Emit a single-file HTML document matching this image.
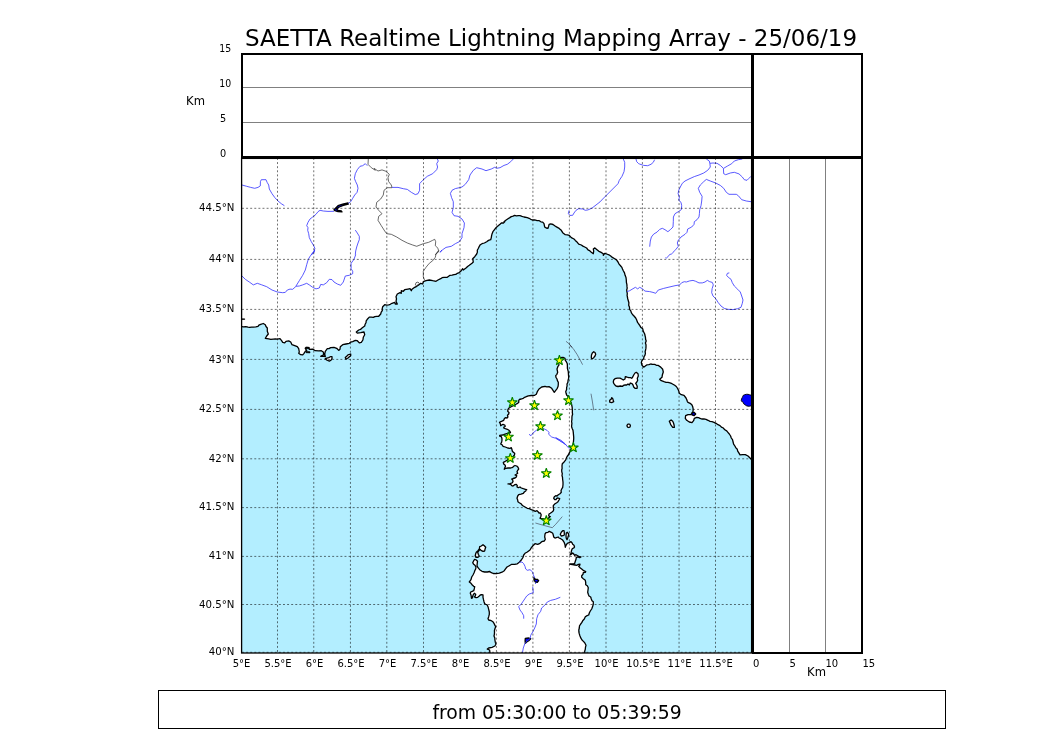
<!DOCTYPE html>
<html lang="en"><head><meta charset="utf-8"><title>SAETTA Realtime Lightning Mapping Array</title>
<style>html,body{margin:0;padding:0;background:#fff;width:1050px;height:750px;overflow:hidden}svg{display:block;position:absolute;left:0;top:0}text{font-family:'DejaVu Sans','Liberation Sans',sans-serif;fill:#000}.t{font-size:10px}.u{font-size:10.2px}.k{font-size:11.6px}</style></head><body>
<svg width="1050" height="750" viewBox="0 0 1050 750">
<rect x="0" y="0" width="1050" height="750" fill="#fff"/>
<clipPath id="mc"><rect x="241.5" y="157.5" width="510.5" height="495.5"/></clipPath>
<g clip-path="url(#mc)">
<rect x="241" y="157" width="511" height="496" fill="#b3eeff"/>
<polygon points="234.7,326.7 242.0,326.7 243.3,326.9 245.8,326.6 248.0,327.1 249.7,327.3 251.5,327.1 253.3,327.1 255.8,326.9 258.0,326.4 258.9,325.1 260.7,324.3 263.3,323.5 265.3,324.7 266.0,326.5 267.3,328.0 267.3,331.3 268.3,334.0 266.7,336.0 265.3,338.3 268.7,338.9 270.8,339.3 273.3,339.1 275.4,339.0 277.3,339.1 280.0,338.7 281.6,340.7 282.7,342.4 284.7,342.9 286.0,341.3 288.7,340.9 290.7,342.0 292.0,344.7 294.7,345.7 297.3,346.7 298.7,348.7 299.3,352.0 298.7,353.3 300.7,354.7 302.7,354.9 304.0,353.3 305.3,351.3 306.7,350.4 305.3,348.7 306.7,347.3 308.7,347.7 309.3,349.3 312.7,349.1 315.3,350.7 318.7,350.9 321.3,350.7 323.3,352.0 323.7,354.7 322.0,355.6 320.7,356.3 323.2,356.2 325.3,356.7 324.7,354.0 325.3,351.3 327.3,348.7 328.9,348.6 330.7,347.6 334.0,347.3 336.7,348.3 338.7,350.4 340.0,349.3 340.3,346.7 342.7,344.7 346.0,344.0 349.3,343.3 350.8,342.0 352.7,341.6 355.3,340.4 357.3,340.7 359.3,342.9 361.3,342.4 362.9,340.0 363.3,337.3 364.7,334.7 364.0,332.0 360.7,332.7 357.3,333.1 356.3,332.0 358.7,330.0 360.5,329.4 362.0,328.0 364.7,326.0 365.1,324.3 366.0,322.7 366.2,320.9 367.3,319.3 369.3,317.1 371.3,317.1 373.3,317.3 374.8,316.6 376.7,316.3 378.7,316.3 380.7,314.0 381.2,312.2 382.3,310.7 382.2,308.8 382.7,306.7 384.7,304.7 386.7,305.1 388.7,304.9 390.3,304.3 392.0,303.3 394.7,302.3 395.3,304.0 397.3,304.0 396.0,301.3 396.5,298.9 396.0,296.7 397.3,294.0 400.0,292.7 401.3,293.3 401.3,290.7 403.3,291.3 404.7,289.7 408.0,289.1 410.0,288.7 411.3,290.7 412.0,289.3 414.7,287.3 416.7,286.3 418.7,284.9 420.7,283.3 422.7,284.0 423.3,281.7 426.0,280.7 429.3,280.0 432.7,280.7 436.0,281.3 438.0,280.0 440.7,278.7 442.1,277.7 444.0,277.3 447.3,277.3 450.0,275.3 452.1,275.2 454.0,274.7 455.8,274.4 457.3,273.3 459.2,272.6 460.7,271.3 462.7,268.7 463.3,270.0 466.0,268.0 467.6,266.5 469.3,265.3 472.0,263.3 473.3,262.0 472.7,258.7 474.7,256.7 476.7,254.0 477.4,252.1 477.3,250.3 478.4,248.3 479.3,246.3 480.3,244.7 482.0,243.7 484.4,243.0 486.7,241.7 488.5,240.4 490.7,239.7 491.3,237.6 491.6,235.7 492.1,233.7 492.9,231.7 494.5,229.6 496.0,227.7 497.3,226.6 498.5,225.6 500.0,224.3 501.4,223.0 503.4,223.0 504.7,221.7 504.0,221.7 505.8,220.2 508.0,218.7 509.8,217.6 511.3,216.6 513.1,216.2 514.7,215.4 516.3,215.8 518.4,215.6 520.0,215.7 522.0,216.4 524.0,217.0 527.3,217.7 529.1,218.3 530.7,219.3 532.4,220.0 534.7,219.9 537.1,220.6 539.3,220.7 540.9,221.8 542.7,222.1 544.0,223.7 544.7,227.0 546.2,228.0 548.0,228.3 548.6,226.4 549.1,224.3 550.7,223.9 553.0,224.5 554.7,225.7 556.5,226.9 558.7,228.1 560.0,229.2 561.3,230.3 562.7,232.7 565.3,234.7 567.3,234.8 569.3,235.3 571.3,237.7 574.0,239.0 575.3,240.4 576.7,241.7 578.7,244.1 581.3,245.0 582.9,246.1 584.7,247.0 586.6,248.0 588.0,249.9 589.9,250.9 591.3,252.3 593.3,253.7 593.7,251.2 593.3,249.0 594.9,247.9 597.3,249.9 598.9,251.3 600.7,252.1 603.3,253.7 603.3,255.3 604.7,253.3 606.7,254.0 608.9,254.8 610.7,256.0 612.4,257.4 614.7,258.7 616.5,259.9 618.0,262.0 619.1,264.1 620.7,266.0 621.9,267.4 622.5,268.9 623.3,270.7 624.5,272.9 625.1,275.3 626.0,277.5 626.3,280.0 626.4,282.3 626.9,284.7 627.0,286.4 627.2,288.2 626.7,290.0 626.9,291.6 627.3,293.7 627.1,295.3 627.4,297.0 627.8,299.0 628.3,300.7 628.9,302.8 628.7,305.3 629.5,307.3 629.6,309.3 630.8,310.9 631.3,312.7 632.5,314.5 634.0,316.0 635.7,318.0 636.7,320.0 637.4,322.1 638.7,324.0 639.9,325.6 640.7,327.3 642.7,328.7 643.3,331.3 644.7,334.0 645.1,335.8 645.5,337.6 645.6,339.3 646.2,341.0 645.4,343.1 646.0,344.7 646.0,346.6 645.9,348.4 645.6,350.0 645.1,351.7 645.4,353.4 644.9,355.3 644.0,356.7 643.7,358.7 642.0,360.4 641.3,362.7 642.0,365.3 643.7,367.1 645.3,366.0 646.7,364.9 648.9,364.7 650.7,364.0 652.5,364.3 654.7,364.4 656.4,365.3 658.0,365.3 660.7,367.1 662.7,369.3 663.3,372.0 662.4,374.7 662.0,377.3 659.7,379.3 661.3,380.7 664.0,381.7 666.0,382.3 668.0,382.4 670.0,382.9 672.0,383.7 674.7,385.3 676.3,386.5 677.3,388.0 678.7,390.7 679.3,393.3 681.3,394.7 684.0,395.3 686.0,398.0 686.7,399.5 687.3,401.3 688.0,402.4 690.7,403.7 692.0,405.0 692.7,406.7 693.1,408.6 693.1,410.7 692.7,412.7 690.7,414.7 688.0,414.7 685.6,415.7 685.3,418.4 686.7,420.3 689.3,422.0 692.0,422.7 693.6,420.7 694.3,418.4 696.7,417.3 698.5,417.7 700.0,418.3 701.7,419.0 704.0,418.9 706.0,419.3 708.0,420.3 710.0,421.4 712.0,421.6 714.0,422.3 716.0,423.3 718.0,424.7 720.0,425.6 721.4,427.1 723.3,428.0 724.8,429.8 726.7,430.9 728.1,432.6 729.3,434.0 730.6,436.0 731.3,438.0 732.5,439.7 733.1,442.0 733.6,444.1 734.9,446.0 735.9,447.9 737.3,449.3 737.7,451.1 738.7,452.7 740.0,454.9 742.7,454.7 745.3,454.7 748.0,456.0 750.0,458.0 751.3,459.3 758.7,462.7 760.0,150.0 230.0,150.0" fill="#fff" stroke="#000" stroke-width="1.3" stroke-linejoin="round"/>
<polygon points="559.7,357.7 563.0,357.3 565.0,358.3 565.3,360.3 566.3,361.7 567.3,363.7 567.4,366.3 567.4,368.3 567.8,369.8 568.3,371.7 568.4,373.5 568.5,375.1 568.7,377.0 568.5,378.7 568.0,380.7 567.9,382.3 567.0,384.0 567.1,385.8 566.6,387.7 566.6,389.6 565.7,391.7 566.1,393.3 566.6,395.0 567.9,396.4 568.7,397.7 569.5,399.4 570.3,401.0 571.2,402.7 571.7,405.0 572.1,406.8 572.3,409.0 572.4,411.0 572.3,412.4 572.6,414.3 572.0,416.2 571.9,418.0 571.9,419.7 571.6,421.5 571.9,423.4 571.7,425.0 571.6,426.8 572.3,428.7 573.0,430.3 573.3,432.6 573.5,434.9 573.7,437.0 573.7,439.0 573.5,441.1 573.3,443.0 572.9,445.5 572.3,447.7 571.0,449.1 570.3,451.0 569.2,453.1 568.3,455.0 567.1,456.5 566.3,458.3 565.6,460.1 564.3,461.7 562.3,463.7 562.0,465.9 562.1,468.3 561.7,470.0 561.8,471.8 562.3,473.7 562.0,475.5 562.5,477.2 562.6,479.0 563.0,482.0 563.0,484.7 562.7,487.3 561.7,489.0 561.0,490.7 561.3,492.3 560.0,493.7 558.3,494.7 557.0,496.0 555.7,495.7 554.3,496.7 553.7,498.3 554.7,499.7 556.0,499.7 556.7,498.3 558.0,498.0 559.7,498.7 559.0,500.0 558.0,501.7 556.7,502.7 554.7,504.0 553.3,505.7 553.3,507.7 553.7,509.7 553.0,511.3 551.7,512.3 550.3,513.3 549.0,514.0 548.7,516.0 550.3,516.5 548.3,518.3 546.3,519.7 543.3,519.0 540.0,518.3 540.8,516.7 541.2,514.7 540.3,513.0 539.0,513.0 538.0,511.7 537.0,510.7 535.3,511.3 533.3,510.3 531.3,509.7 529.3,508.7 527.3,508.3 525.0,507.0 523.3,506.0 522.0,505.0 521.0,503.7 519.3,502.7 517.9,501.7 517.7,500.0 517.0,498.3 517.7,496.0 518.7,494.7 521.0,494.1 523.3,493.3 524.3,492.0 525.7,491.0 526.3,489.7 526.7,489.7 525.3,489.3 523.3,488.7 521.3,488.0 520.0,487.0 518.3,487.7 517.0,487.0 517.3,485.7 516.3,484.3 514.7,484.7 513.0,486.0 511.7,485.7 510.7,484.3 508.0,483.9 510.0,483.7 512.0,483.0 513.0,481.7 512.7,480.0 511.7,479.0 513.0,478.5 515.0,478.0 516.3,477.0 516.7,475.7 515.0,475.0 516.3,474.3 517.7,473.3 517.0,471.7 517.7,470.3 518.7,469.0 518.0,467.3 516.7,466.0 515.0,465.5 514.0,466.0 512.7,467.3 510.7,468.0 508.0,468.0 505.7,468.3 504.3,469.3 504.8,467.7 505.5,466.3 505.0,465.0 503.7,464.0 503.3,462.3 505.3,461.3 507.0,460.4 508.3,459.2 510.3,458.3 511.7,457.5 513.3,456.3 514.5,455.0 514.7,453.3 513.3,452.3 512.3,451.0 511.9,449.3 511.3,447.7 510.0,448.3 507.7,448.0 505.3,447.0 503.0,446.3 502.3,445.0 500.7,444.0 501.7,442.0 502.0,440.0 502.0,440.3 501.9,438.3 501.3,436.7 499.7,436.2 499.7,435.3 502.7,435.0 504.3,434.3 506.7,433.7 509.3,433.0 510.5,432.7 510.0,431.5 509.0,430.3 507.3,429.3 505.3,428.7 503.7,428.0 504.0,427.0 505.3,426.2 504.7,425.0 503.0,424.3 501.7,425.0 500.7,425.7 500.3,423.7 499.5,422.5 500.3,421.8 502.0,421.1 503.7,420.3 504.3,418.7 505.3,417.7 507.0,418.0 507.9,417.0 507.5,415.3 508.7,414.0 509.0,412.5 507.7,411.3 508.0,409.3 509.0,408.0 510.7,407.0 512.7,406.0 514.7,405.2 516.3,404.0 517.7,403.3 518.8,402.3 518.7,400.7 519.3,399.5 521.3,399.0 523.3,398.3 524.7,397.3 526.3,396.7 528.3,395.8 531.3,395.5 534.7,395.3 536.3,394.3 537.3,391.7 539.0,389.0 541.7,387.0 545.0,386.3 546.8,386.9 549.0,386.6 551.7,388.3 553.0,390.3 554.3,392.3 556.3,389.7 557.3,388.3 558.1,386.3 558.3,384.4 558.3,382.3 557.4,380.6 557.0,379.0 556.0,377.5 555.7,375.7 556.9,374.3 557.7,372.3 557.0,369.0 557.8,366.7 559.0,365.0 558.6,362.9 558.3,361.0 558.5,359.2" fill="#fff" stroke="#000" stroke-width="1.3" stroke-linejoin="round"/>
<polygon points="488.7,620.0 488.0,618.7 488.7,616.7 489.3,614.3 489.3,612.0 488.7,609.3 488.0,606.7 487.0,604.7 485.7,604.3 484.7,603.7 484.0,601.7 483.5,599.7 483.0,597.3 483.0,595.0 481.7,594.7 480.3,595.0 479.0,596.3 477.7,597.3 476.0,597.7 474.3,597.0 475.3,596.0 475.7,594.3 474.3,593.3 473.3,594.7 472.7,596.3 472.3,598.0 471.5,598.3 471.3,596.7 471.0,595.0 470.3,593.3 470.7,592.0 472.3,591.3 473.7,590.7 474.3,588.7 474.7,586.7 473.7,586.3 472.3,585.0 471.0,583.3 469.3,582.0 471.0,579.7 471.7,577.0 473.0,575.0 474.3,572.3 474.8,570.6 475.7,569.0 476.0,567.0 475.0,565.3 473.7,564.3 472.7,562.7 473.7,560.7 474.7,559.3 476.3,560.0 477.5,561.3 477.2,563.7 477.0,565.7 478.0,567.7 479.7,569.7 482.0,571.3 484.7,572.0 487.3,572.0 489.7,571.5 491.3,572.7 493.3,573.5 496.3,573.7 499.3,573.1 502.0,572.2 504.3,570.7 505.7,568.7 507.0,567.0 509.3,565.7 511.7,564.3 514.7,564.3 517.3,563.8 519.3,562.3 521.3,560.0 523.0,557.3 523.7,555.0 525.0,553.3 527.3,552.0 530.0,550.0 531.2,547.9 532.7,546.0 535.0,543.7 537.7,544.3 540.0,543.3 541.7,541.7 544.3,541.0 545.3,539.3 544.7,537.0 545.0,534.0 546.0,532.7 548.0,532.3 549.3,531.3 551.3,532.3 552.7,533.3 553.3,535.0 553.7,537.0 555.0,538.0 556.3,537.7 558.3,537.0 559.0,538.0 560.7,538.7 562.3,539.7 563.3,541.0 564.3,542.7 565.0,544.7 565.3,547.3 566.0,545.3 567.3,543.3 569.0,542.7 571.0,541.7 572.0,542.7 572.7,544.3 574.0,545.3 574.5,547.0 573.7,548.0 572.3,548.7 571.7,550.0 571.3,551.7 571.0,553.3 570.0,555.0 571.3,554.3 572.7,553.0 573.7,554.0 574.7,555.3 576.0,554.7 577.7,555.7 579.3,556.7 581.0,557.0 579.7,557.7 577.7,557.0 576.3,557.3 576.0,559.3 575.3,561.3 574.7,563.3 573.0,564.0 569.7,564.0 572.3,564.7 575.0,565.0 577.0,565.3 578.3,564.3 580.0,564.1 579.7,565.3 578.7,566.3 580.3,568.0 582.0,569.3 583.7,570.7 585.7,571.7 585.3,572.3 583.3,572.7 583.0,574.3 581.7,575.7 581.7,577.3 583.3,578.7 585.3,580.3 585.7,582.3 585.7,584.7 587.3,585.7 588.3,587.7 588.0,590.0 587.7,592.3 588.3,594.3 589.0,596.0 590.7,597.0 591.3,599.0 592.0,600.7 593.3,601.7 593.3,604.0 592.7,606.3 591.7,609.0 590.3,611.0 589.3,613.0 588.7,615.0 587.1,615.6 585.3,616.7 584.3,619.0 582.7,620.7 581.9,622.4 580.7,624.0 579.5,625.8 579.3,628.0 578.8,630.0 578.9,632.0 579.3,633.9 580.0,636.0 580.9,638.2 582.0,640.0 583.4,641.4 584.7,642.7 586.0,645.3 585.5,647.1 585.3,649.3 584.7,651.2 584.7,653.1 584.7,660.0 490.0,660.0 490.0,653.1 489.6,650.0 487.3,649.1 488.7,648.0 492.0,647.3 494.9,646.0 496.0,644.0 495.3,642.2 494.9,640.0 494.8,637.9 494.0,636.0 494.4,634.1 494.5,632.3 494.4,630.7 495.0,628.5 495.7,626.7 494.7,624.9 494.0,623.3 493.0,621.8 491.3,620.7" fill="#fff" stroke="#000" stroke-width="1.3" stroke-linejoin="round"/>
<polygon points="613.3,382.0 613.7,380.0 615.0,378.7 617.3,378.1 620.0,378.1 621.7,379.0 623.3,380.0 625.0,379.0 625.3,376.7 626.7,377.0 628.7,377.7 630.7,377.7 631.7,378.3 632.7,377.0 633.7,375.0 635.0,373.0 636.3,372.3 638.0,373.7 638.3,376.0 637.3,378.3 637.7,380.3 636.7,382.3 635.7,383.3 636.7,385.0 637.3,386.7 637.0,388.3 635.0,388.3 633.7,387.0 633.0,385.0 632.0,383.7 630.3,383.0 629.3,385.0 628.0,384.0 626.7,385.0 625.0,385.0 623.3,385.3 622.7,386.3 620.3,386.0 618.0,386.5 616.0,386.0 614.7,384.7 613.7,383.3" fill="#fff" stroke="#000" stroke-width="1.3" stroke-linejoin="round"/>
<polygon points="591.3,357.3 591.5,355.0 592.3,353.0 593.7,351.7 595.0,352.5 595.7,354.3 595.0,356.0 593.7,357.7 592.3,358.7 591.5,358.3" fill="#fff" stroke="#000" stroke-width="1.3" stroke-linejoin="round"/>
<polygon points="609.7,400.3 611.0,399.4 611.7,397.7 612.7,398.6 613.7,401.7 611.7,402.6 609.7,402.1" fill="#fff" stroke="#000" stroke-width="1.3" stroke-linejoin="round"/>
<polygon points="669.3,421.3 671.1,420.0 672.7,421.3 673.4,422.8 674.0,424.7 674.4,427.3 672.7,427.3 670.7,424.7 670.2,423.1" fill="#fff" stroke="#000" stroke-width="1.3" stroke-linejoin="round"/>
<polygon points="626.9,425.7 627.5,424.4 628.7,424.0 629.9,424.4 630.4,425.7 629.9,427.1 628.7,427.5 627.5,427.1" fill="#fff" stroke="#000" stroke-width="1.3" stroke-linejoin="round"/>
<polygon points="325.3,358.7 326.9,358.1 328.7,357.6 330.4,356.7 332.0,356.7 332.0,358.7 331.0,360.2 329.3,361.1 326.7,360.0" fill="#fff" stroke="#000" stroke-width="1.3" stroke-linejoin="round"/>
<polygon points="345.3,357.6 346.7,356.3 348.0,354.9 350.7,354.0 350.7,355.7 349.4,356.7 348.0,358.0 346.0,359.3" fill="#fff" stroke="#000" stroke-width="1.3" stroke-linejoin="round"/>
<polygon points="479.7,546.7 481.3,546.0 483.0,544.7 484.3,545.7 485.7,547.3 485.0,549.3 484.7,551.0 483.0,551.3 481.0,550.3 480.0,549.3 479.0,550.7 477.7,552.3 478.3,554.3 479.3,556.3 478.0,557.3 476.0,557.3 475.2,556.0 475.7,553.7 476.3,552.3 478.0,550.7 479.3,549.0" fill="#fff" stroke="#000" stroke-width="1.3" stroke-linejoin="round"/>
<polygon points="560.3,534.3 561.3,532.3 562.7,530.7 564.0,530.7 564.3,532.7 564.3,535.0 563.0,535.7 561.3,536.0" fill="#fff" stroke="#000" stroke-width="1.3" stroke-linejoin="round"/>
<polygon points="566.3,533.0 567.3,532.3 568.7,534.0 568.3,536.0 567.7,538.0 567.0,539.7 566.2,538.0 566.0,535.7" fill="#fff" stroke="#000" stroke-width="1.3" stroke-linejoin="round"/>
<polygon points="305.3,347.3 309.3,347.3 309.3,348.7 305.3,348.7" fill="#000" stroke="#000" stroke-width="0.6"/>
<polygon points="306.0,351.3 310.0,351.7 310.0,352.9 306.0,352.7" fill="#000" stroke="#000" stroke-width="0.6"/>
<polygon points="242.0,318.8 244.7,318.8 244.7,319.5 242.0,319.5" fill="#000" stroke="#000" stroke-width="0.6"/>
<polygon points="334.0,209.7 338.0,205.7 342.7,204.1 348.0,203.0 348.3,204.1 343.3,205.4 339.3,207.0 336.7,209.0 338.0,210.3 341.3,211.0 342.0,211.9 338.0,211.7 334.9,210.7" fill="#0000ff" stroke="#000" stroke-width="1.3" stroke-linejoin="round"/>
<polygon points="534.0,577.3 535.3,579.3 537.3,579.3 538.7,580.7 537.3,582.4 535.3,582.0 534.0,580.0" fill="#0000ff" stroke="#000" stroke-width="1.3" stroke-linejoin="round"/>
<polygon points="525.3,638.4 528.7,638.0 530.7,638.7 528.7,640.7 526.7,642.0 525.3,643.3 525.1,640.7" fill="#0000ff" stroke="#000" stroke-width="1.3" stroke-linejoin="round"/>
<polygon points="692.0,412.7 694.0,412.3 695.7,414.0 694.0,415.7 692.0,414.9" fill="#0000ff" stroke="#000" stroke-width="1.3" stroke-linejoin="round"/>
<polyline points="368.3,159.0 368.0,164.3 371.3,167.7 375.3,170.3 374.0,168.3 378.0,171.0 382.0,169.9 386.0,171.3 389.3,174.3 388.0,177.7 388.7,181.7 391.3,185.0 392.0,187.7 387.3,187.7 384.0,190.3 383.3,195.0 380.7,199.0 376.7,202.3 376.0,207.0 378.7,210.3 382.0,213.7 378.7,216.3 378.0,220.3 381.3,225.7 384.7,231.0 386.7,233.7 391.3,234.3 396.7,237.0 402.0,240.3 407.3,243.0 412.7,245.0 416.7,246.3 423.3,243.7 428.7,242.3 432.7,240.3 434.7,239.3 435.7,241.7 435.3,245.7 438.0,248.3 438.7,251.7 435.3,254.7 438.7,250.7 436.0,254.0 435.3,257.3 432.7,260.7 429.3,263.3 426.0,267.3 423.3,271.3 423.3,276.7 424.7,280.4" fill="none" stroke="#3a3a3a" stroke-width="0.75" stroke-linejoin="round"/>
<polyline points="416.0,282.7 418.0,282.0 419.3,283.3 416.7,286.0 415.3,284.9 416.0,282.7" fill="none" stroke="#3a3a3a" stroke-width="0.75" stroke-linejoin="round"/>
<polyline points="242.0,185.0 246.7,186.3 250.7,187.4 254.7,188.3 258.0,187.4 260.3,185.9 260.4,181.7 261.3,179.7 266.0,179.7 267.1,182.3 268.7,185.0 269.3,189.0 272.0,193.7 274.9,197.7 278.0,201.0 281.3,203.7 284.4,205.7" fill="none" stroke="#3c3cff" stroke-width="0.85" stroke-linejoin="round"/>
<polyline points="334.0,211.3 328.0,211.4 323.3,211.0 320.0,210.3 318.0,211.7 316.0,214.3 312.7,217.0 310.0,219.0 308.0,222.3 306.7,225.7 308.0,227.7 307.7,230.3 308.7,233.7 309.3,237.7 311.3,241.7 313.3,245.0 314.9,248.3 314.0,251.7 311.3,254.7 314.7,250.0 314.0,252.7 310.7,255.3 308.3,259.3 306.7,264.7 305.3,270.0 302.7,275.3 299.3,280.7 296.0,286.0" fill="none" stroke="#3c3cff" stroke-width="0.85" stroke-linejoin="round"/>
<polyline points="348.3,203.3 350.7,201.7 352.7,198.3 354.7,195.0 357.1,192.3 358.0,188.3 357.3,185.0 355.7,181.7 354.4,178.3 355.3,173.7 357.3,169.7 360.0,166.3 362.7,165.7 365.3,163.7 367.3,165.7" fill="none" stroke="#3c3cff" stroke-width="0.85" stroke-linejoin="round"/>
<polyline points="355.3,230.1 357.3,233.0 359.3,236.3 359.3,239.7 358.0,243.0 356.7,247.0 355.7,251.0 355.3,254.7 355.7,254.7 354.0,259.3 351.1,263.3 351.1,268.7 352.7,271.3 352.7,273.7 349.3,275.3 345.3,276.0 343.3,282.0 340.7,285.3 337.3,284.0 334.0,282.0 332.0,279.6 329.3,279.3 326.7,282.7 323.3,284.9 320.7,284.4 319.3,288.0 316.0,288.9 312.7,287.3 309.3,284.9 306.7,283.3 302.7,284.9 299.3,286.0 296.0,286.3 292.7,289.3 290.0,289.1 287.3,290.0 285.3,292.4 282.7,292.7 277.3,292.0 272.0,290.0 266.7,286.7 261.3,284.7 257.3,283.3 253.3,284.9 249.3,282.0 245.3,279.3 242.0,276.0" fill="none" stroke="#3c3cff" stroke-width="0.85" stroke-linejoin="round"/>
<polyline points="392.0,187.4 398.0,187.4 403.3,188.7 407.3,189.4 411.3,192.3 415.3,194.6 418.0,193.7 419.6,190.3 419.6,183.7 422.7,180.3 427.3,176.3 432.7,173.7 436.7,169.7 437.6,167.0 436.7,163.7 438.3,161.0 437.3,159.0" fill="none" stroke="#3c3cff" stroke-width="0.85" stroke-linejoin="round"/>
<polyline points="513.3,159.0 510.7,161.7 507.3,164.3 504.0,165.4 500.0,167.7 496.7,168.3 494.7,167.3 491.3,169.0 486.0,170.7 482.0,169.0 476.7,167.7 473.3,170.3 470.0,175.0 468.7,179.7 465.3,184.3 462.0,187.0 459.3,187.7 455.3,188.6 452.0,190.3 450.4,193.4 451.6,197.7 453.3,201.7 453.3,207.7 452.0,212.3 454.0,215.7 458.0,216.3 462.0,219.0 464.4,223.0 464.0,227.7 462.0,233.7 462.0,237.7 459.3,241.7 455.3,243.7 451.3,246.3 446.0,247.4 442.7,249.7 440.0,252.3 442.0,250.0 440.7,251.3" fill="none" stroke="#3c3cff" stroke-width="0.85" stroke-linejoin="round"/>
<polyline points="623.3,159.0 624.7,162.3 624.7,167.0 624.0,171.7 622.0,176.3 619.3,180.3 618.0,183.7 614.7,187.0 610.7,191.0 606.7,195.0 602.7,199.0 600.0,201.9 596.0,205.0 592.0,208.1 588.0,209.9 585.3,210.3 582.7,209.0 578.7,208.7 576.0,210.3 574.0,213.0 572.7,215.3 570.0,215.4 568.4,213.7 569.1,210.3" fill="none" stroke="#3c3cff" stroke-width="0.85" stroke-linejoin="round"/>
<polyline points="636.0,159.0 636.7,161.7 638.7,163.7 639.7,164.1 643.7,165.4 647.7,165.7 651.0,164.3 653.3,162.3 654.6,159.7" fill="none" stroke="#3c3cff" stroke-width="0.85" stroke-linejoin="round"/>
<polyline points="706.3,159.0 709.3,161.0 709.9,163.7 710.3,167.0 707.7,170.3 703.7,173.0 699.0,175.0 694.3,176.6 689.0,179.0 685.0,181.0 682.3,183.3 680.3,187.0 678.7,190.3 678.1,193.7 679.4,197.0 678.7,200.3 681.0,202.3 681.7,205.7 681.3,209.7 678.3,211.7 675.0,213.7 673.4,217.0 673.3,221.7 673.0,227.0 670.3,229.7 667.9,231.7 665.0,229.7 662.3,228.3 659.7,229.4 657.0,232.1 653.7,234.1 651.4,237.0 650.3,241.0 649.7,246.7" fill="none" stroke="#3c3cff" stroke-width="0.85" stroke-linejoin="round"/>
<polyline points="709.9,163.3 713.0,163.0 717.0,163.3 720.3,165.4 723.4,168.3 723.7,173.7 725.7,174.7 730.3,173.0 734.3,172.3 739.0,173.9 742.3,177.0 744.3,179.7 747.0,180.3 749.0,178.3 751.0,176.3" fill="none" stroke="#3c3cff" stroke-width="0.85" stroke-linejoin="round"/>
<polyline points="723.7,168.3 727.7,165.9 731.7,163.7 734.3,161.0 738.3,159.7 742.3,159.0" fill="none" stroke="#3c3cff" stroke-width="0.85" stroke-linejoin="round"/>
<polyline points="751.0,201.7 746.3,201.0 741.7,199.7 738.3,195.7 736.3,194.3 729.0,194.3 726.3,192.3 723.7,188.3 720.3,185.4 715.7,183.0 710.3,181.0 706.3,179.4 703.7,181.7 700.3,185.0 698.3,188.3 699.7,192.3 702.1,196.3 701.7,201.0 701.0,205.7 699.7,209.7 699.4,213.7 699.0,217.0 697.0,219.7 694.3,221.7 694.1,224.3 691.7,227.0 687.7,229.0 687.0,232.3 685.0,234.3 681.0,237.0 678.3,240.3 677.3,243.0 678.3,246.3 675.7,249.7 673.0,252.3 671.0,254.7 670.3,254.0 666.3,258.3 665.4,257.7" fill="none" stroke="#3c3cff" stroke-width="0.85" stroke-linejoin="round"/>
<polyline points="627.0,291.6 629.7,290.7 633.0,288.7 635.4,287.3 637.7,288.9 639.7,287.3 642.3,288.7 645.0,291.1 649.7,291.6 653.0,292.4 655.7,293.3 658.3,290.0 663.7,288.4 669.0,287.1 675.0,285.7 679.7,284.9 681.7,282.7 684.3,281.7 686.3,282.0 689.7,280.9 693.0,280.4 695.7,281.3 699.0,282.9 702.3,282.9 705.0,282.0 707.3,280.4 709.7,281.7 712.3,282.4 713.3,284.9 712.1,288.7 711.7,292.7 713.0,296.0 715.7,298.7 718.3,302.7 721.0,306.0 724.3,308.4 727.7,309.3 733.0,309.6 737.7,308.7 741.0,307.3 742.3,303.3 743.0,300.0 741.7,296.0 740.3,292.0 737.7,289.3 734.3,286.0 732.3,282.7 731.0,279.3 728.3,277.3 726.6,275.3 727.4,273.3 729.3,272.9" fill="none" stroke="#3c3cff" stroke-width="0.85" stroke-linejoin="round"/>
<polyline points="529.0,434.3 531.0,435.7 533.0,433.0 536.3,430.3 539.7,429.0 543.7,428.7 547.0,430.3 549.0,432.3 548.7,434.3 551.7,437.0 555.7,438.3 559.7,440.7 563.7,443.0 565.7,444.7 555.7,437.7 561.0,440.3 565.0,443.7 568.3,447.7 571.0,448.3" fill="none" stroke="#3c3cff" stroke-width="0.85" stroke-linejoin="round"/>
<polyline points="519.3,562.3 522.0,562.0 523.7,563.7 525.0,566.3 525.7,569.0 527.3,570.3 530.0,569.7 532.7,572.0 533.3,574.7 534.7,578.0" fill="none" stroke="#3c3cff" stroke-width="0.85" stroke-linejoin="round"/>
<polyline points="536.0,582.4 535.3,584.0" fill="none" stroke="#3c3cff" stroke-width="0.85" stroke-linejoin="round"/>
<polyline points="532.7,586.7 533.3,592.7 529.3,594.0 526.7,596.0 524.0,600.0 521.3,604.0 518.7,606.7 520.0,610.0 522.0,612.7 523.7,615.7 523.7,618.7" fill="none" stroke="#3c3cff" stroke-width="0.85" stroke-linejoin="round"/>
<polyline points="560.3,597.3 555.3,599.3 550.7,600.4 547.3,602.0 544.7,605.3 541.6,608.0 540.7,611.3 538.0,614.7 536.7,618.7 536.3,624.0 534.7,628.0 532.7,632.0 530.7,635.3 530.0,638.7 526.7,641.3 524.7,644.0 523.3,648.0 522.4,653.1" fill="none" stroke="#3c3cff" stroke-width="0.85" stroke-linejoin="round"/>
<polyline points="566.0,341.3 569.3,344.0 572.0,347.3 569.7,345.0 573.0,348.3 577.0,354.3 580.3,360.3 582.6,364.7" fill="none" stroke="#334" stroke-width="0.6"/>
<polyline points="591.0,393.7 592.3,401.0 593.7,410.3" fill="none" stroke="#334" stroke-width="0.6"/>
<polyline points="535.4,523.0 542.3,525.0 552.3,527.7 555.7,524.3 562.3,516.6" fill="none" stroke="#334" stroke-width="0.6"/>
<path d="M277.50 158V653M313.75 158V653M350.45 158V653M386.80 158V653M423.50 158V653M460.00 158V653M496.40 158V653M532.90 158V653M569.40 158V653M606.00 158V653M642.40 158V653M679.05 158V653M715.50 158V653M242 652.3H752M242 604.5H752M242 556.4H752M242 507.6H752M242 458.8H752M242 409.4H752M242 359.4H752M242 309.4H752M242 259.4H752M242 208.3H752" fill="none" stroke="#000" stroke-opacity="0.8" stroke-width="0.7" stroke-dasharray="1.95 2.15"/>
<polygon points="559.4,355.2 560.6,358.9 564.4,358.9 561.3,361.1 562.5,364.7 559.4,362.5 556.3,364.7 557.5,361.1 554.4,358.9 558.2,358.9" fill="#ffff00" stroke="#008000" stroke-width="1.1" stroke-linejoin="bevel"/>
<polygon points="512.3,397.2 513.5,400.9 517.3,400.9 514.2,403.1 515.4,406.7 512.3,404.5 509.2,406.7 510.4,403.1 507.3,400.9 511.1,400.9" fill="#ffff00" stroke="#008000" stroke-width="1.1" stroke-linejoin="bevel"/>
<polygon points="534.5,400.2 535.7,403.9 539.5,403.9 536.4,406.1 537.6,409.7 534.5,407.5 531.4,409.7 532.6,406.1 529.5,403.9 533.3,403.9" fill="#ffff00" stroke="#008000" stroke-width="1.1" stroke-linejoin="bevel"/>
<polygon points="568.5,395.2 569.7,398.9 573.5,398.9 570.4,401.1 571.6,404.7 568.5,402.5 565.4,404.7 566.6,401.1 563.5,398.9 567.3,398.9" fill="#ffff00" stroke="#008000" stroke-width="1.1" stroke-linejoin="bevel"/>
<polygon points="557.5,410.4 558.7,414.0 562.5,414.0 559.4,416.2 560.6,419.8 557.5,417.6 554.4,419.8 555.6,416.2 552.5,414.0 556.3,414.0" fill="#ffff00" stroke="#008000" stroke-width="1.1" stroke-linejoin="bevel"/>
<polygon points="540.5,421.2 541.7,424.9 545.5,424.9 542.4,427.1 543.6,430.7 540.5,428.5 537.4,430.7 538.6,427.1 535.5,424.9 539.3,424.9" fill="#ffff00" stroke="#008000" stroke-width="1.1" stroke-linejoin="bevel"/>
<polygon points="508.5,431.6 509.7,435.3 513.5,435.3 510.4,437.5 511.6,441.1 508.5,438.9 505.4,441.1 506.6,437.5 503.5,435.3 507.3,435.3" fill="#ffff00" stroke="#008000" stroke-width="1.1" stroke-linejoin="bevel"/>
<polygon points="510.3,453.1 511.5,456.7 515.3,456.7 512.2,458.9 513.4,462.5 510.3,460.3 507.2,462.5 508.4,458.9 505.3,456.7 509.1,456.7" fill="#ffff00" stroke="#008000" stroke-width="1.1" stroke-linejoin="bevel"/>
<polygon points="537.4,450.1 538.6,453.8 542.4,453.8 539.3,456.0 540.5,459.6 537.4,457.4 534.3,459.6 535.5,456.0 532.4,453.8 536.2,453.8" fill="#ffff00" stroke="#008000" stroke-width="1.1" stroke-linejoin="bevel"/>
<polygon points="573.4,442.4 574.6,446.1 578.4,446.1 575.3,448.3 576.5,451.9 573.4,449.7 570.3,451.9 571.5,448.3 568.4,446.1 572.2,446.1" fill="#ffff00" stroke="#008000" stroke-width="1.1" stroke-linejoin="bevel"/>
<polygon points="546.3,468.1 547.5,471.8 551.3,471.8 548.2,474.0 549.4,477.6 546.3,475.4 543.2,477.6 544.4,474.0 541.3,471.8 545.1,471.8" fill="#ffff00" stroke="#008000" stroke-width="1.1" stroke-linejoin="bevel"/>
<polygon points="546.3,515.5 547.5,519.1 551.3,519.1 548.2,521.3 549.4,524.9 546.3,522.7 543.2,524.9 544.4,521.3 541.3,519.1 545.1,519.1" fill="#ffff00" stroke="#008000" stroke-width="1.1" stroke-linejoin="bevel"/>
</g>
<polygon points="741.3,400.7 741.5,399.0 742.2,397.7 742.8,396.3 743.3,395.3 744.7,394.7 746.3,394.3 748.0,394.3 749.7,394.8 751.3,395.3 753.3,396.0 753.3,405.3 751.3,405.7 749.7,406.2 748.0,406.2 746.3,405.7 745.0,404.7 743.7,403.8 743.2,402.7 742.7,401.7 741.5,401.3" fill="#0000ff" stroke="#000" stroke-width="0.9" stroke-linejoin="round" clip-path="url(#mc)"/>
<rect x="241.6" y="158.4" width="510" height="494.6" fill="none" stroke="#000" stroke-width="1.3"/>
<path d="M242 87.5H752M242 122.5H752" stroke="#808080" stroke-width="1" fill="none"/>
<path d="M789.5 157V653M825.5 157V653" stroke="#808080" stroke-width="1" fill="none"/>
<g fill="none" stroke="#000" stroke-width="2">
<rect x="242" y="54" width="510" height="103"/>
<rect x="753" y="54" width="109" height="103"/>
<rect x="753" y="158" width="109" height="495"/>
</g>
<rect x="158.5" y="690.5" width="787" height="38" fill="#fff" stroke="#000" stroke-width="1"/>
<text x="551" y="46" text-anchor="middle" font-size="23">SAETTA Realtime Lightning Mapping Array - 25/06/19</text>
<text x="557" y="719.3" text-anchor="middle" font-size="18.8">from 05:30:00 to 05:39:59</text>
<text class="t" x="219.2" y="52" textLength="11.9" lengthAdjust="spacingAndGlyphs">15</text>
<text class="t" x="219.2" y="87.4" textLength="11.9" lengthAdjust="spacingAndGlyphs">10</text>
<text class="t" x="220.0" y="122.4" textLength="6.2" lengthAdjust="spacingAndGlyphs">5</text>
<text class="t" x="220.0" y="157" textLength="6.2" lengthAdjust="spacingAndGlyphs">0</text>
<text class="k" x="195.5" y="105" text-anchor="middle">Km</text>
<text class="u" x="234.4" y="655.0" text-anchor="end">40°N</text>
<text class="u" x="234.4" y="608.0" text-anchor="end">40.5°N</text>
<text class="u" x="234.4" y="559.1" text-anchor="end">41°N</text>
<text class="u" x="234.4" y="510.3" text-anchor="end">41.5°N</text>
<text class="u" x="234.4" y="462.2" text-anchor="end">42°N</text>
<text class="u" x="234.4" y="412.1" text-anchor="end">42.5°N</text>
<text class="u" x="234.4" y="362.9" text-anchor="end">43°N</text>
<text class="u" x="234.4" y="312.1" text-anchor="end">43.5°N</text>
<text class="u" x="234.4" y="262.1" text-anchor="end">44°N</text>
<text class="u" x="234.4" y="211.0" text-anchor="end">44.5°N</text>
<text class="t" x="241.6" y="667" text-anchor="middle">5°E</text>
<text class="t" x="278.1" y="667" text-anchor="middle">5.5°E</text>
<text class="t" x="314.6" y="667" text-anchor="middle">6°E</text>
<text class="t" x="351.1" y="667" text-anchor="middle">6.5°E</text>
<text class="t" x="387.6" y="667" text-anchor="middle">7°E</text>
<text class="t" x="424.1" y="667" text-anchor="middle">7.5°E</text>
<text class="t" x="460.6" y="667" text-anchor="middle">8°E</text>
<text class="t" x="497.1" y="667" text-anchor="middle">8.5°E</text>
<text class="t" x="533.6" y="667" text-anchor="middle">9°E</text>
<text class="t" x="570.1" y="667" text-anchor="middle">9.5°E</text>
<text class="t" x="606.6" y="667" text-anchor="middle">10°E</text>
<text class="t" x="643.1" y="667" text-anchor="middle">10.5°E</text>
<text class="t" x="679.6" y="667" text-anchor="middle">11°E</text>
<text class="t" x="716.1" y="667" text-anchor="middle">11.5°E</text>
<text class="t" x="753" y="667" text-anchor="start">0</text>
<text class="t" x="789.5" y="667" text-anchor="start">5</text>
<text class="t" x="825.5" y="667" text-anchor="start">10</text>
<text class="t" x="862.5" y="667" text-anchor="start">15</text>
<text class="k" x="816.5" y="675.7" text-anchor="middle">Km</text>
</svg></body></html>
